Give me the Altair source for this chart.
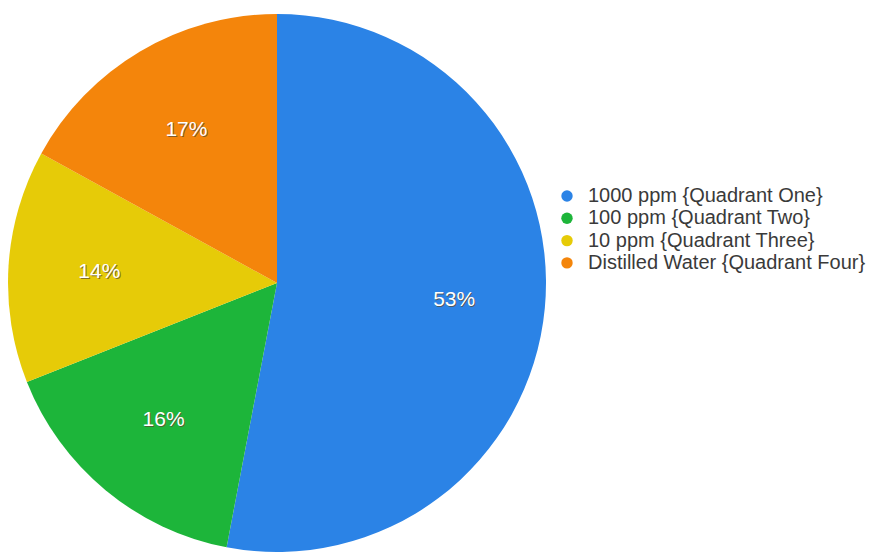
import altair as alt
import pandas as pd

categories = ["1000 ppm {Quadrant One}", "100 ppm {Quadrant Two}", "10 ppm {Quadrant Three}", "Distilled Water {Quadrant Four}"]
values = [53, 16, 14, 17]
labels = ["53%", "16%", "14%", "17%"]
colors = ["#2b83e6", "#1db53a", "#e6cb08", "#f4850b"]

df = pd.DataFrame({"cat": categories, "val": values, "lab": labels, "ord": list(range(len(categories)))})

CX, CY, R = 277, 283, 269

base = alt.Chart(df).encode(
    theta=alt.Theta("val:Q", stack=True),
    order=alt.Order("ord:Q"),
)

pie = base.mark_arc(outerRadius=R, x=CX, y=CY, stroke=None).encode(
    color=alt.Color(
        "cat:N",
        scale=alt.Scale(domain=categories, range=colors),
        sort=categories,
        legend=alt.Legend(
            title=None, orient="none", legendX=557, legendY=186,
            symbolType="circle", symbolSize=130, symbolStrokeWidth=0,
            labelFontSize=20, labelFont="Liberation Sans", labelColor="#3a3a3a",
            rowPadding=2.3, labelOffset=11, labelLimit=400,
        ),
    )
)

shadow = base.mark_text(radius=178, x=CX + 1, y=CY + 1, fontSize=21, font="Liberation Sans", color="#5a4a30", opacity=0.7).encode(text="lab:N")
txt = base.mark_text(radius=178, x=CX, y=CY, fontSize=21, font="Liberation Sans", color="white").encode(text="lab:N")

chart = alt.layer(pie, shadow, txt).properties(
    width=872, height=559, autosize=alt.AutoSizeParams(type="none"), padding=0
).configure_view(stroke=None)

chart.save("out.html", embed_options={"renderer": "svg", "actions": False})
